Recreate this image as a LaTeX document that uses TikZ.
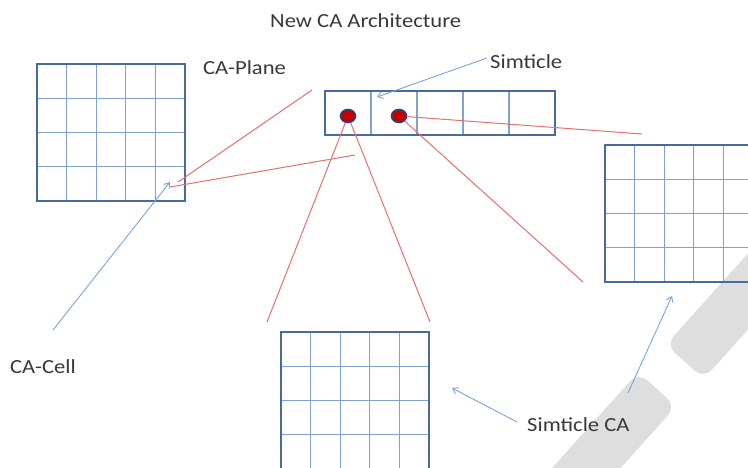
\documentclass[tikz,border=0pt]{standalone}
\usepackage{fontspec}
\usepackage{tikz}
\usetikzlibrary{calc, arrows.meta, shapes.geometric}
\newfontfamily\lblfont{Carlito}[FakeStretch=1.13]

\definecolor{framebl}{RGB}{72,106,158}
\definecolor{gridbl}{RGB}{128,162,210}
\definecolor{linered}{RGB}{228,112,112}
\definecolor{arrbl}{RGB}{122,163,214}
\definecolor{dotred}{RGB}{196,0,0}
\definecolor{dotbl}{RGB}{40,70,130}
\definecolor{txtgray}{RGB}{56,56,56}
\definecolor{wmgray}{RGB}{222,222,222}

\begin{document}
\begin{tikzpicture}[x=1pt,y=-1pt,
  gridln/.style={draw=gridbl, line width=1.2pt},
  cagrid/.style={draw=framebl, line width=2.1pt, minimum width=148pt, minimum height=137pt, inner sep=0pt,
    path picture={
      \foreach \k in {1,...,4}
        \draw[gridln] ($(path picture bounding box.north west)!\k/5!(path picture bounding box.north east)$)
          -- ($(path picture bounding box.south west)!\k/5!(path picture bounding box.south east)$);
      \foreach \k in {1,2,3}
        \draw[gridln] ($(path picture bounding box.north west)!\k/4!(path picture bounding box.south west)$)
          -- ($(path picture bounding box.north east)!\k/4!(path picture bounding box.south east)$);
    }},
  simbar/.style={draw=framebl, line width=2.1pt, minimum width=230pt, minimum height=44pt, inner sep=0pt,
    path picture={
      \foreach \k in {1,...,4}
        \draw[gridln] ($(path picture bounding box.north west)!\k/5!(path picture bounding box.north east)$)
          -- ($(path picture bounding box.south west)!\k/5!(path picture bounding box.south east)$);
    }},
  simdot/.style={ellipse, fill=dotred, draw=dotbl, line width=1.6pt, minimum width=15pt, minimum height=13pt, inner sep=0pt},
  redln/.style={draw=linered, line width=1pt},
  bluearr/.style={draw=arrbl, line width=0.9pt, -{Straight Barb[length=5pt,width=7pt]}},
  lbl/.style={font=\lblfont\fontsize{20}{22}\selectfont, text=txtgray, inner sep=0pt, anchor=base west},
  band/.style={fill=wmgray, rounded corners=12pt, minimum width=150pt, minimum height=51pt, inner sep=0pt}]

\useasboundingbox (0,0) rectangle (748,468);
\clip (0,0) rectangle (748,468);

% watermark
\node[band, rotate=48] (wm1) at (607,445) {};
\node[band, rotate=48] (wm2) at (735,306) {};

% grids
\node[cagrid] (plane) at (111,132.5) {};
\node[cagrid] (rightca) at (679,213.5) {};
\node[cagrid] (simca) at (355,400.5) {};
\node[simbar] (bar) at (440,113) {};

% simticles
\node[simdot] (d1) at (348,116) {};
\node[simdot] (d2) at (399,116) {};

% labels
\node[lbl] (title) at (270,28) {New CA Architecture};
\node[lbl] (planelbl) at (203,75) {CA-Plane};
\node[lbl] (simlbl) at (490,69) {Simticle};
\node[lbl] (celllbl) at (10,373) {CA-Cell};
\node[lbl] (sclbl) at (527,431) {Simticle CA};

% ends of the lines
\coordinate (pa) at (312,90);
\coordinate (pb) at (355,155);
\coordinate (ca) at (178,182);
\coordinate (cb) at (170,187);
\coordinate (ta) at (267,322);
\coordinate (tb) at (430,322);
\coordinate (rc) at (583,282);
\coordinate (rd) at (642,134);
\coordinate (cellhit) at (170,182);
\coordinate (cellfrom) at (53,330);
\coordinate (simfrom) at (487,58);
\coordinate (simhit) at (377,97);
\coordinate (scfrom) at (517,422);
\coordinate (schit) at (452,388);
\coordinate (rfrom) at (628,393);
\coordinate (rhit) at (672,296);

% zoom lines
\draw[redln] (pa) -- (ca);
\draw[redln] (pb) -- (cb);
\draw[redln] (d1) -- (ta);
\draw[redln] (d1) -- (tb);
\draw[redln] (d2) -- (rc);
\draw[redln] (d2) -- (rd);

% pointers
\draw[bluearr] (cellfrom) -- (cellhit);
\draw[bluearr] (simfrom) -- (simhit);
\draw[bluearr] (scfrom) -- (schit);
\draw[bluearr] (rfrom) -- (rhit);

\end{tikzpicture}
\end{document}
